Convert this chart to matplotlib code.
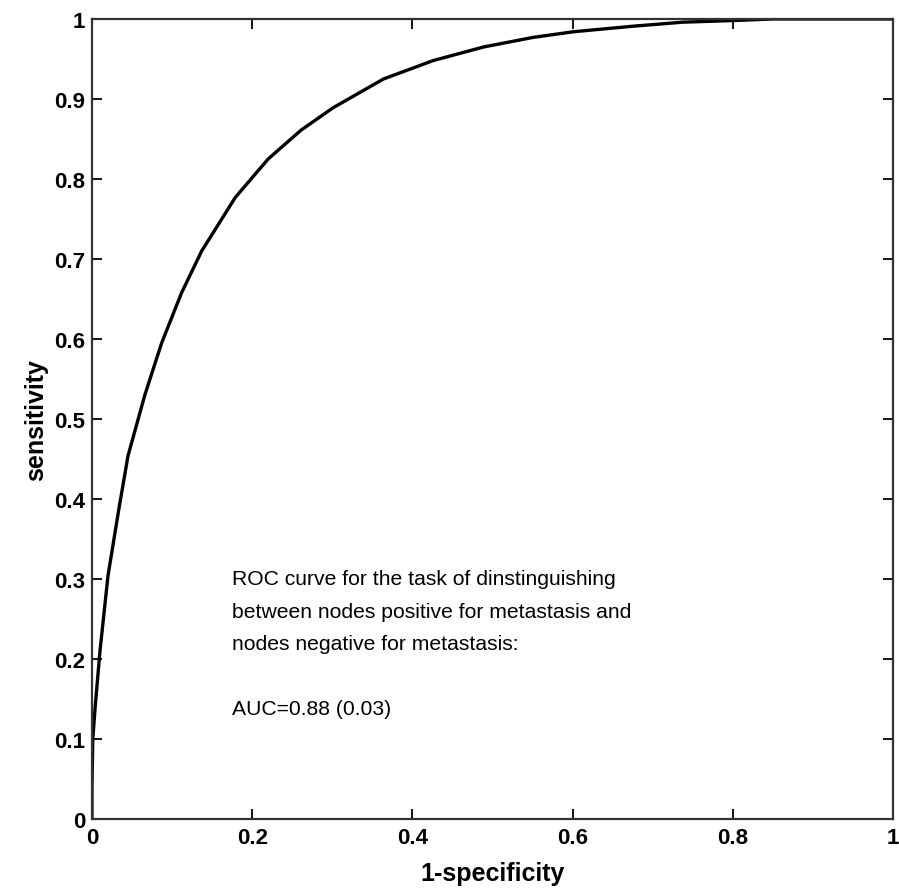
import matplotlib
matplotlib.use("Agg")
import matplotlib.pyplot as plt

# ====== Data ======
fpr = [0.0, 0.0, 0.001, 0.004, 0.010, 0.020, 0.033, 0.045, 0.066,
       0.087, 0.112, 0.137, 0.179, 0.220, 0.261, 0.301, 0.364, 0.426,
       0.489, 0.551, 0.601, 0.676, 0.738, 0.800, 0.850, 1.0]
tpr = [0.0, 0.04, 0.10, 0.14, 0.21, 0.304, 0.384, 0.454, 0.530,
       0.595, 0.658, 0.710, 0.777, 0.825, 0.861, 0.889, 0.925, 0.948,
       0.965, 0.977, 0.984, 0.991, 0.996, 0.998, 1.0, 1.0]

xticks = [0, 0.2, 0.4, 0.6, 0.8, 1]
xtick_labels = ["0", "0.2", "0.4", "0.6", "0.8", "1"]
yticks = [0, 0.1, 0.2, 0.3, 0.4, 0.5, 0.6, 0.7, 0.8, 0.9, 1]
ytick_labels = ["0", "0.1", "0.2", "0.3", "0.4", "0.5", "0.6", "0.7", "0.8", "0.9", "1"]

note = ("ROC curve for the task of dinstinguishing\n"
        "between nodes positive for metastasis and\n"
        "nodes negative for metastasis:\n"
        "\n"
        "AUC=0.88 (0.03)")

plt.rcParams['font.family'] = ['Liberation Sans', 'DejaVu Sans']

fig = plt.figure(figsize=(8.99, 8.95), dpi=100)
ax = fig.add_axes([0.1023, 0.0838, 0.891, 0.8939])

ax.plot(fpr, tpr, color='black', linewidth=2.4, solid_joinstyle='round')

ax.set_xlim(0, 1)
ax.set_ylim(0, 1)
ax.set_xticks(xticks)
ax.set_xticklabels(xtick_labels, fontsize=16, fontweight='bold')
ax.set_yticks(yticks)
ax.set_yticklabels(ytick_labels, fontsize=16, fontweight='bold')
ax.tick_params(direction='in', length=7, width=1.3, top=True, right=True)
ax.tick_params(axis='x', pad=6)
ax.tick_params(axis='y', pad=5)

for s in ax.spines.values():
    s.set_linewidth(1.6)
    s.set_color('#333333')

ax.set_xlabel("1-specificity", fontsize=18, fontweight='bold', labelpad=9)
ax.set_ylabel("sensitivity", fontsize=18, fontweight='bold', labelpad=4)

ax.text(0.175, 0.312, note, transform=ax.transAxes, fontsize=15.2,
        va='top', ha='left', linespacing=1.9)

fig.savefig("out.png", dpi=100)
